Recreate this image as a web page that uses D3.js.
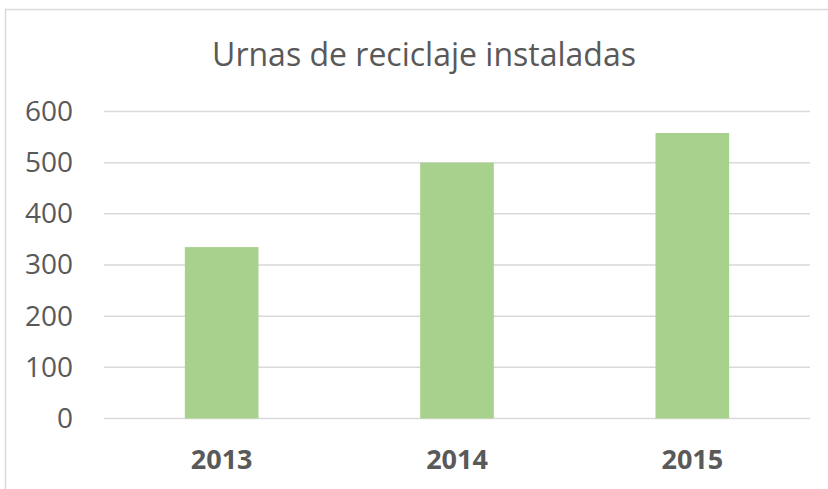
<!DOCTYPE html>
<html>
<head>
<meta charset="utf-8">
<script src="https://cdn.jsdelivr.net/npm/d3@7"></script>
<style>
  html, body { margin: 0; padding: 0; background: #fff; }
  svg { display: block; font-family: "Open Sans", "Liberation Sans", sans-serif; }
</style>
</head>
<body>
<svg id="chart"></svg>
<script>
const years = ["2013", "2014", "2015"];
const urnas = [335, 500, 558];
const yTicks = [0, 100, 200, 300, 400, 500, 600];
const chartTitle = "Urnas de reciclaje instaladas";

const width = 828;
const height = 489;
const margin = { top: 111.5, right: 18, bottom: 70.5, left: 104 };
const innerWidth = width - margin.left - margin.right;
const innerHeight = height - margin.top - margin.bottom;

const svg = d3.select("#chart").attr("width", width).attr("height", height);

// chart frame (cut off on the right and bottom like the source)
svg.append("rect")
  .attr("x", 5.5)
  .attr("y", 9.5)
  .attr("width", width + 20)
  .attr("height", height + 20)
  .attr("fill", "none")
  .attr("stroke", "#d9d9d9")
  .attr("stroke-width", 1.5);

svg.append("text")
  .attr("x", 424)
  .attr("y", 66)
  .attr("text-anchor", "middle")
  .attr("fill", "#595959")
  .attr("font-size", 32)
  .text(chartTitle);

const root = svg.append("g")
  .attr("transform", `translate(${margin.left},${margin.top})`);

const x = d3.scaleBand()
  .domain(years)
  .range([0, innerWidth])
  .paddingInner(0.687)
  .paddingOuter(0.3435);

const y = d3.scaleLinear().domain([0, 600]).range([innerHeight, 0]);

root.append("g")
  .selectAll("line")
  .data(yTicks)
  .join("line")
  .attr("x1", 0)
  .attr("x2", innerWidth)
  .attr("y1", (d) => y(d))
  .attr("y2", (d) => y(d))
  .attr("stroke", "#d9d9d9")
  .attr("stroke-width", 1.5);

root.append("g")
  .selectAll("rect")
  .data(years.map((yr, i) => ({ yr, v: urnas[i] })))
  .join("rect")
  .attr("x", (d) => x(d.yr))
  .attr("width", x.bandwidth())
  .attr("y", (d) => y(d.v))
  .attr("height", (d) => y(0) - y(d.v))
  .attr("fill", "#a9d18e");

const yAxis = root.append("g")
  .call(d3.axisLeft(y).tickValues(yTicks).tickSize(0).tickPadding(31));
yAxis.select(".domain").remove();
yAxis.selectAll("text")
  .attr("fill", "#595959")
  .attr("font-size", 28)
  .attr("font-family", "Open Sans, sans-serif");

const xAxis = root.append("g")
  .attr("transform", `translate(0,${innerHeight})`)
  .call(d3.axisBottom(x).tickSize(0).tickPadding(31));
xAxis.select(".domain").remove();
xAxis.selectAll("text")
  .attr("fill", "#595959")
  .attr("font-size", 27)
  .attr("font-weight", "bold")
  .attr("font-family", "Open Sans, sans-serif");
</script>
</body>
</html>
